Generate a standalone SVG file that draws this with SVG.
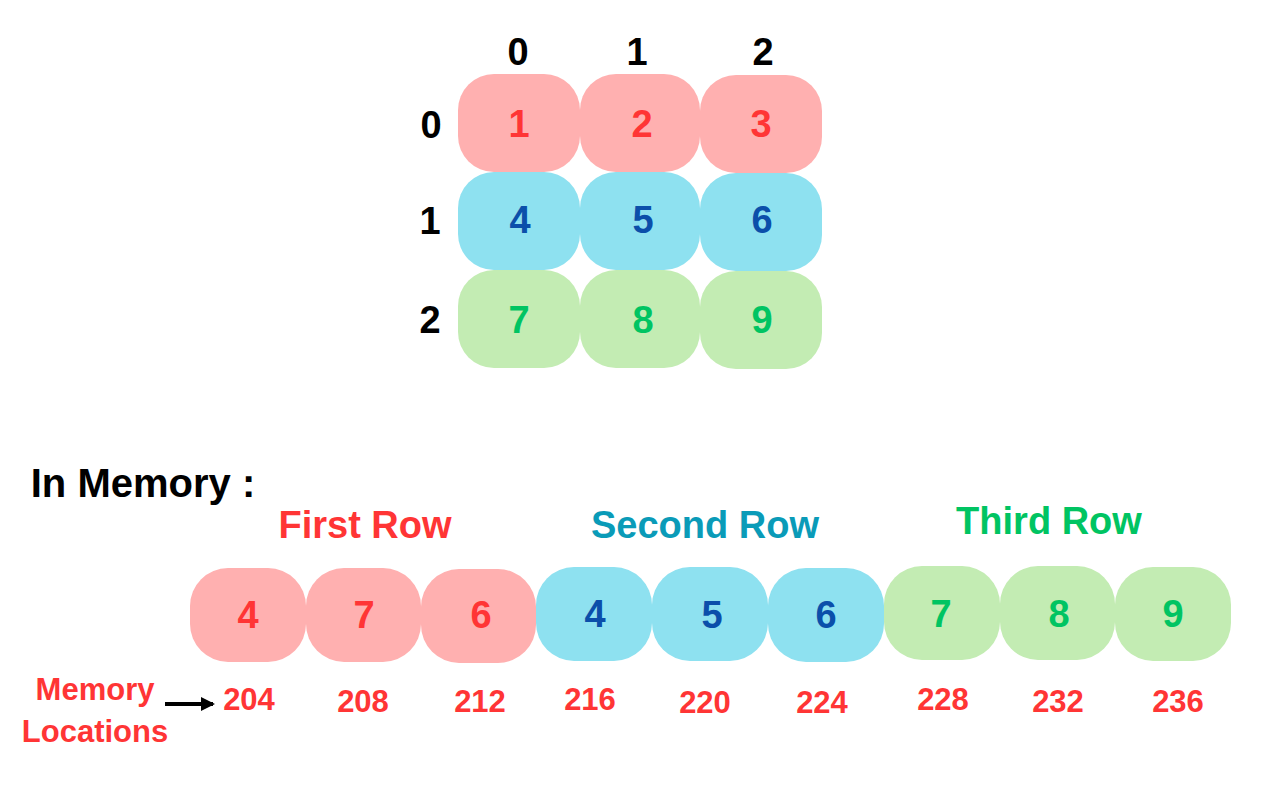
<svg xmlns="http://www.w3.org/2000/svg" width="1280" height="800" viewBox="0 0 1280 800">
<defs>
<style>
text{font-family:"Liberation Sans",Arial,sans-serif;font-weight:bold;text-anchor:middle;dominant-baseline:central}
.r{fill:#FFB0B0}.b{fill:#8EE1F0}.g{fill:#C3ECB3}
.rt{fill:#FF3535}.bt{fill:#0B4FAA}.gt{fill:#00C462}
.k{fill:#000}
.cell{font-size:38px}
.hdr{font-size:38px}
.lbl{font-size:38px}
.addr{font-size:31px;fill:#FF3535}
</style>
<marker id="ah" markerWidth="14" markerHeight="14" refX="12" refY="7" orient="auto" markerUnits="userSpaceOnUse">
<path d="M0,0 L14,7 L0,14 Z" fill="#000"/>
</marker>
</defs>
<rect width="1280" height="800" fill="#fff"/>
<g id="headers">
<text class="hdr k" x="518" y="52">0</text>
<text class="hdr k" x="637" y="52">1</text>
<text class="hdr k" x="763" y="52">2</text>
<text class="hdr k" x="431" y="125">0</text>
<text class="hdr k" x="430" y="221">1</text>
<text class="hdr k" x="430" y="320">2</text>
</g>
<g id="grid">
<g id="g00"><rect class="r" x="458" y="74" width="122" height="98" rx="36"/><text class="cell rt" x="519" y="124">1</text></g>
<g id="g01"><rect class="r" x="580" y="74" width="120" height="98" rx="36"/><text class="cell rt" x="642" y="124">2</text></g>
<g id="g02"><rect class="r" x="700" y="75" width="122" height="98" rx="36"/><text class="cell rt" x="761" y="124">3</text></g>
<g id="g10"><rect class="b" x="458" y="172" width="122" height="98" rx="36"/><text class="cell bt" x="520" y="220">4</text></g>
<g id="g11"><rect class="b" x="580" y="172" width="120" height="98" rx="36"/><text class="cell bt" x="643" y="220">5</text></g>
<g id="g12"><rect class="b" x="700" y="173" width="122" height="98" rx="36"/><text class="cell bt" x="762" y="220">6</text></g>
<g id="g20"><rect class="g" x="458" y="270" width="122" height="98" rx="36"/><text class="cell gt" x="519" y="320">7</text></g>
<g id="g21"><rect class="g" x="580" y="270" width="120" height="98" rx="36"/><text class="cell gt" x="643" y="320">8</text></g>
<g id="g22"><rect class="g" x="700" y="271" width="122" height="98" rx="36"/><text class="cell gt" x="762" y="320">9</text></g>
</g>
<g id="titles">
<text class="k" x="143" y="483" style="font-size:40px">In Memory :</text>
<text class="lbl rt" x="365" y="525">First Row</text>
<text class="lbl" x="705" y="525" fill="#0A9BB8">Second Row</text>
<text class="lbl gt" x="1049" y="521">Third Row</text>
</g>
<g id="memory">
<g id="m0"><rect class="r" x="190" y="568" width="116" height="94" rx="38"/><text class="cell rt" x="248" y="615">4</text></g>
<g id="m1"><rect class="r" x="306" y="568" width="115" height="94" rx="38"/><text class="cell rt" x="364" y="615">7</text></g>
<g id="m2"><rect class="r" x="421" y="569" width="115" height="94" rx="38"/><text class="cell rt" x="481" y="615">6</text></g>
<g id="m3"><rect class="b" x="536" y="567" width="116" height="94" rx="38"/><text class="cell bt" x="595" y="614">4</text></g>
<g id="m4"><rect class="b" x="652" y="567" width="116" height="94" rx="38"/><text class="cell bt" x="712" y="615">5</text></g>
<g id="m5"><rect class="b" x="768" y="568" width="116" height="94" rx="38"/><text class="cell bt" x="826" y="615">6</text></g>
<g id="m6"><rect class="g" x="884" y="566" width="116" height="94" rx="38"/><text class="cell gt" x="941" y="614">7</text></g>
<g id="m7"><rect class="g" x="1000" y="566" width="115" height="94" rx="38"/><text class="cell gt" x="1059" y="614">8</text></g>
<g id="m8"><rect class="g" x="1115" y="567" width="116" height="94" rx="38"/><text class="cell gt" x="1173" y="614">9</text></g>
</g>
<g id="addresses">
<text class="addr" x="249" y="699">204</text>
<text class="addr" x="363" y="701">208</text>
<text class="addr" x="480" y="701">212</text>
<text class="addr" x="590" y="699">216</text>
<text class="addr" x="705" y="702">220</text>
<text class="addr" x="822" y="702">224</text>
<text class="addr" x="943" y="699">228</text>
<text class="addr" x="1058" y="701">232</text>
<text class="addr" x="1178" y="701">236</text>
</g>
<g id="memloc">
<text class="addr" x="95" y="689">Memory</text>
<text class="addr" x="95" y="731">Locations</text>
</g>
<g id="connectors">
<line x1="165" y1="704" x2="213" y2="704" stroke="#000" stroke-width="4" marker-end="url(#ah)"/>
</g>
</svg>
